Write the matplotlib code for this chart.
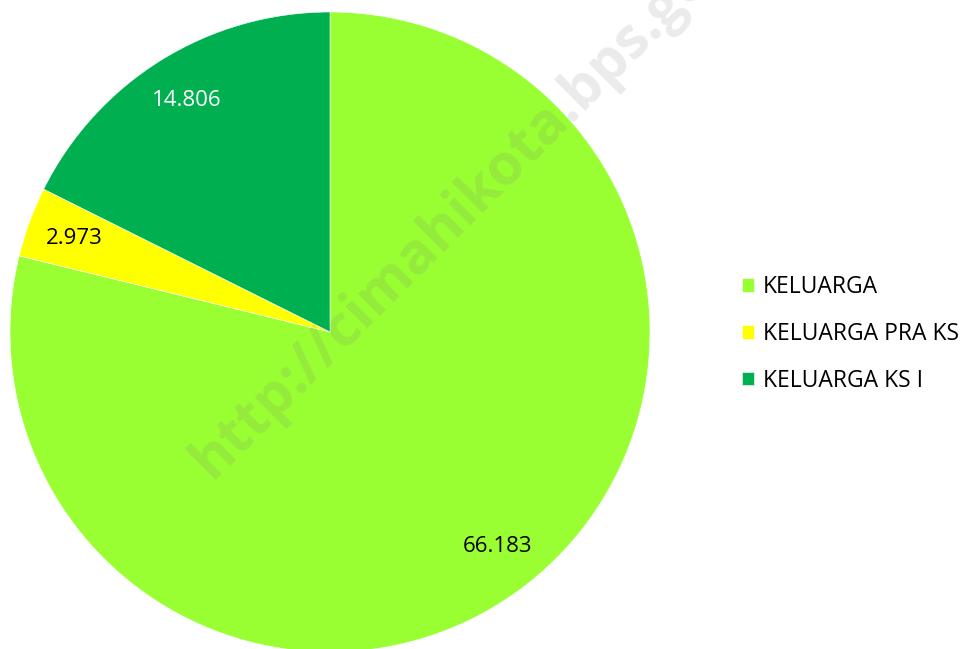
import matplotlib.pyplot as plt

labels = ['KELUARGA', 'KELUARGA PRA KS', 'KELUARGA KS I']
values = [66.183, 2.973, 14.806]
colors = ['#99FF33', '#FFFF00', '#00B050']
text_colors = ['black', 'black', 'white']

plt.rcParams['font.family'] = ['Open Sans', 'DejaVu Sans']

fig = plt.figure(figsize=(9.67, 6.49), dpi=100)
ax = fig.add_axes([10 / 967, -3 / 649, 640 / 967, 640 / 649])

wedges, texts = ax.pie(values, colors=colors, startangle=90, counterclock=False,
                       labels=[f'{v:.3f}' for v in values], labeldistance=0.85,
                       wedgeprops=dict(edgecolor='white', linewidth=0.4))
for t, c in zip(texts, text_colors):
    t.set_color(c)
    t.set_fontsize(16)
    t.set_ha('center')
    t.set_va('center')
ax.set_xlim(-1, 1)
ax.set_ylim(-1, 1)

# watermark
fig.text(0.492, 0.70, 'http://cimahikota.bps.go.id', rotation=45, rotation_mode='anchor',
         fontsize=41, fontweight='bold', color='#777777', alpha=0.15,
         ha='center', va='center')

fig.legend(wedges, labels, loc='center left', bbox_to_anchor=(721 / 967, 315 / 649),
           frameon=False, fontsize=16.5, handlelength=0.52, handleheight=0.52,
           handletextpad=0.4, labelspacing=1.0)

fig.savefig('out.png', dpi=100)
